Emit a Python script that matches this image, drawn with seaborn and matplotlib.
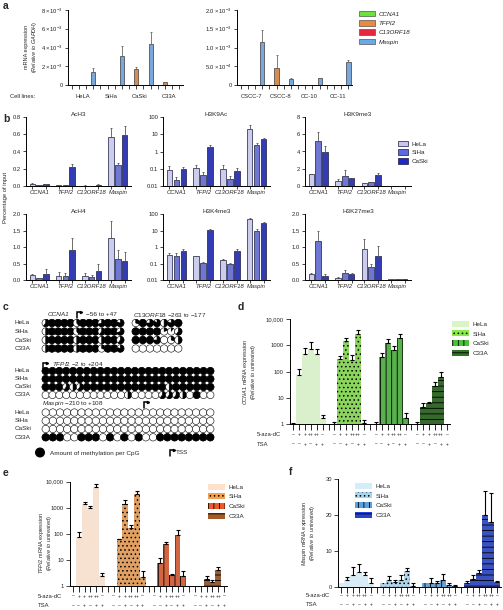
import numpy as np
import pandas as pd
import matplotlib
matplotlib.use("Agg")
import matplotlib.pyplot as plt
import matplotlib.transforms as mtransforms
from matplotlib.patches import Circle, Wedge, Patch
from matplotlib.ticker import NullLocator
import seaborn as sns

sns.set_style("ticks")
plt.rcParams["font.family"] = ["Liberation Sans", "DejaVu Sans"]
plt.rcParams["mathtext.fontset"] = "custom"
plt.rcParams["mathtext.rm"] = "Liberation Sans"
plt.rcParams["mathtext.it"] = "Liberation Sans:italic"
plt.rcParams["hatch.linewidth"] = 0.6
plt.rcParams["axes.linewidth"] = 0.7
plt.rcParams["axes.edgecolor"] = "black"
plt.rcParams["xtick.major.width"] = 0.6
plt.rcParams["ytick.major.width"] = 0.6
plt.rcParams["xtick.major.size"] = 2
plt.rcParams["ytick.major.size"] = 2
plt.rcParams["xtick.major.pad"] = 1.5
plt.rcParams["ytick.major.pad"] = 1.5

FS = 4.2

# ---------------- data ----------------
genes = ["CCNA1", "TFPI2", "C13ORF18", "Maspin"]
gene_colors = ["#6be33a", "#ec8a3c", "#e5283f", "#6aa8ea"]

# panel a (rows follow genes, columns follow samples)
a_cell_lines = ["HeLA", "SiHa", "CaSki", "C33A"]
a_cell_expr = [[0, 0, 0, 0], [0, 0, 1.7e-3, 0.3e-3], [0, 0, 0, 0], [1.4e-3, 3.1e-3, 4.4e-3, 0]]
a_cell_err = [[0, 0, 0, 0], [0, 0, 1.9e-3, 0.3e-3], [0, 0, 0, 0], [1.8e-3, 4.2e-3, 5.7e-3, 0]]
a_tumors = ["CSCC-7", "CSCC-8", "CC-10", "CC-11"]
a_tumor_expr = [[0, 0, 0, 0], [0, 0.45e-3, 0, 0], [0, 0, 0, 0], [1.15e-3, 0.15e-3, 0.18e-3, 0.62e-3]]
a_tumor_err = [[0, 0, 0, 0], [0, 0.8e-3, 0, 0], [0, 0, 0, 0], [1.47e-3, 0.2e-3, 0.2e-3, 0.68e-3]]

# panel b (rows follow cell lines, columns follow genes)
b_lines = ["HeLa", "SiHa", "CaSki"]
b_colors = ["#c6c6f2", "#5d69e2", "#1d29c9"]
ach3 = [[0.025, 0.01, 0.005, 0.57], [0.01, 0.01, 0.003, 0.24], [0.02, 0.22, 0.015, 0.59]]
ach3_err = [[0.03, 0.015, 0.008, 0.67], [0.012, 0.012, 0.005, 0.27], [0.025, 0.26, 0.02, 0.69]]
h3k9ac = [[0.09, 0.11, 0.1, 19], [0.022, 0.045, 0.027, 2.5], [0.1, 1.9, 0.07, 5.3]]
h3k9ac_err = [[0.15, 0.17, 0.16, 36], [0.035, 0.065, 0.037, 3.0], [0.13, 2.4, 0.11, 6.2]]
h3k9me3 = [[1.35, 0.62, 0.38, 0.03], [5.2, 1.2, 0.42, 0.03], [3.95, 0.89, 1.27, 0.03]]
h3k9me3_err = [[1.4, 0.77, 0.4, 0.03], [6.3, 1.85, 0.45, 0.03], [4.6, 0.95, 1.46, 0.03]]
ach4 = [[0.14, 0.13, 0.13, 1.26], [0.05, 0.13, 0.08, 0.65], [0.19, 0.9, 0.27, 0.59]]
ach4_err = [[0.18, 0.24, 0.2, 1.8], [0.06, 0.2, 0.15, 0.9], [0.33, 1.28, 0.5, 0.84]]
h3k4me3 = [[0.34, 0.27, 0.16, 48], [0.3, 0.11, 0.1, 10], [0.55, 10.5, 0.58, 30]]
h3k4me3_err = [[0.42, 0.3, 0.18, 60], [0.42, 0.12, 0.11, 12], [0.72, 11.5, 0.8, 33]]
h3k27me3 = [[0.18, 0.07, 0.95, 0.02], [1.19, 0.22, 0.38, 0.03], [0.13, 0.17, 0.73, 0.03]]
h3k27me3_err = [[0.21, 0.08, 1.24, 0.02], [1.47, 0.29, 0.5, 0.03], [0.17, 0.22, 1.02, 0.03]]

# panel c: methylation fraction per CpG (rows HeLa, SiHa, CaSki, C33A)
c_lines = ["HeLa", "SiHa", "CaSki", "C33A"]
ccna1_meth = [[0.6, 1, 1, 1, 1, 0.4, 1, 1, 1, 0.7, 1, 1, 0.8],
              [0.5, 1, 1, 1, 1, 0.4, 1, 1, 1, 0.6, 1, 1, 0.7],
              [0.5, 1, 1, 1, 1, 0.5, 1, 1, 1, 0.5, 1, 1, 0.6],
              [0.5, 1, 1, 1, 1, 0.5, 1, 1, 1, 0.3, 1, 1, 0.8]]
c13orf18_meth = [[0.3, 1, 0.75, 0.85, 0.5, 0.8, 1],
                 [1, 1, 1, 1, 0.2, 0.1, 0.6],
                 [1, 1, 1, 0.75, 0, 0.3, 0.5],
                 [0, 0, 0, 0, 0, 0, 0]]
tfpi2_meth = [[1] * 25,
              [1] * 25,
              [1, 1, 1, 0.6, 0.5, 0.6, 1, 1, 1, 1, 1, 1, 1, 1, 1, 1, 1, 1, 0.5, 1, 1, 1, 1, 1, 1],
              [0, 0, 0, 0, 0, 0, 0, 0, 0, 0, 0, 0, 0.5, 0, 0, 0, 0, 0.6, 0.6, 0.6, 0.5, 0, 1, 0, 0]]
maspin_meth = [[0] * 24,
               [0] * 24,
               [0] * 24,
               [1, 1, 1, 0, 0, 1, 1, 1, 0, 1, 0, 1, 0, 1, 0, 0, 1, 1, 1, 1, 1, 1, 1, 1]]

# panels d-f: six treatments per cell line
treat_lines = ["HeLa", "SiHa", "CaSki", "C33A"]
aza_labels = ["\u2013", "+", "+", "++", "++", "\u2013"]
tsa_labels = ["\u2013", "\u2013", "+", "\u2013", "+", "+"]
ccna1_expr = [[1, 75, 470, 720, 470, 1.8], [1, 300, 1500, 275, 2600, 1.1],
              [1, 350, 1250, 660, 1850, 1.8], [1, 4.7, 6.3, 28, 65, 1]]
ccna1_err = [[1.16, 122, 770, 1380, 720, 2.3], [1.26, 390, 1850, 430, 3800, 1.5],
             [1.26, 530, 1680, 940, 2700, 2.6], [1.26, 6.3, 7, 41, 100, 1]]
tfpi2_expr = [[1, 76, 1400, 1000, 6400, 2.4], [1, 60, 1450, 170, 3300, 2.2],
              [1, 7.5, 40, 2.5, 92, 2.4], [1, 1, 1.75, 1.35, 4.0, 1]]
tfpi2_err = [[1, 115, 1600, 1200, 8300, 3.2], [1, 64, 1900, 210, 4300, 3.7],
             [1, 12, 50, 2.8, 145, 3.7], [1, 1, 2.35, 1.65, 5.4, 1]]
maspin_expr = [[1.0, 2.0, 3.4, 4.0, 3.3, 0.9], [1.0, 1.9, 1.3, 2.0, 4.4, 0.3],
               [1.0, 1.1, 1.1, 2.0, 0.5, 0.3], [1.1, 2.1, 3.7, 20.0, 18.2, 1.4]]
maspin_err = [[1.0, 2.7, 5.4, 6.3, 4.2, 2.4], [1.0, 3.0, 1.9, 3.3, 5.3, 1.1],
              [1.0, 2.3, 1.6, 3.5, 1.1, 0.55], [1.7, 3.3, 4.7, 26.8, 26.3, 1.6]]

# ---------------- figure ----------------
W, H = 503, 610
fig = plt.figure(figsize=(W / 100, H / 100), dpi=100)
over = fig.add_axes([0, 0, 1, 1])
over.set_xlim(0, W)
over.set_ylim(H, 0)
over.axis("off")
over.set_zorder(10)


def px_axes(x0, y0, x1, y1):
    return fig.add_axes([x0 / W, 1 - y1 / H, (x1 - x0) / W, (y1 - y0) / H])


def up_errors(ax, cont, vals, tops, color, cap, lw):
    for p, v, t in zip(cont.patches, vals, tops):
        if t > v:
            xc = p.get_x() + p.get_width() / 2
            ax.errorbar(xc, v, yerr=[[0], [t - v]], fmt="none", ecolor=color,
                        elinewidth=lw, capsize=cap, capthick=lw)


def finish(ax):
    sns.despine(ax=ax)
    ax.set_xlabel("")
    ax.set_ylabel("")
    ax.tick_params(labelsize=FS)


def rot_label(x, y, lines, size=4.0):
    for i, s in enumerate(lines):
        over.text(x + i * 8, y, s, rotation=90, ha="center", va="center", fontsize=size)


# ---- panel a ----
def draw_a(ax, groups, expr, err, ymax, yticks, ylabels):
    rows = [(g, genes[j], expr[j][i]) for j in range(4) for i, g in enumerate(groups)]
    df = pd.DataFrame(rows, columns=["group", "gene", "val"])
    sns.barplot(data=df, x="group", y="val", hue="gene", order=groups, hue_order=genes,
                palette=gene_colors, width=1.0, gap=0.4, edgecolor="#3a3a3a",
                linewidth=0.5, legend=False, ax=ax)
    bars = list(ax.containers)
    for j, cont in enumerate(bars):
        up_errors(ax, cont, expr[j], err[j], "#666666", 1.0, 0.6)
    ax.set_xlim(-0.5, 3.5)
    ax.set_ylim(0, ymax)
    ax.set_yticks(yticks, ylabels)
    ax.set_xticks([i - 0.5 + (j + 0.5) / 4 for i in range(4) for j in range(4)], [])
    ax.tick_params(axis="x", length=3)
    finish(ax)
    tr = mtransforms.blended_transform_factory(ax.transData, over.transData)
    for i, g in enumerate(groups):
        over.text(i, 97, g, fontsize=FS, ha="center", va="center", transform=tr)


ax_a1 = px_axes(68, 10, 183, 85)
draw_a(ax_a1, a_cell_lines, a_cell_expr, a_cell_err, 8e-3, [0, 2e-3, 4e-3, 6e-3, 8e-3],
       ["0", r"$2\times10^{-3}$", r"$4\times10^{-3}$", r"$6\times10^{-3}$", r"$8\times10^{-3}$"])
ax_a2 = px_axes(237, 10, 352, 85)
draw_a(ax_a2, a_tumors, a_tumor_expr, a_tumor_err, 2e-3, [0, 5e-4, 1e-3, 1.5e-3, 2e-3],
       ["0", r"$5.0\times10^{-4}$", r"$1.0\times10^{-3}$", r"$1.5\times10^{-3}$", r"$2.0\times10^{-3}$"])
over.text(10, 97, "Cell lines:", fontsize=FS, va="center")
rot_label(27, 47, ["mRNA expression", r"($\it{Relative\ to\ GAPDH}$)"])
fig.legend([Patch(facecolor=c, edgecolor="#555555", lw=0.5) for c in gene_colors], genes,
           loc="upper left", bbox_to_anchor=(353 / W, 1 - 5 / H), frameon=False,
           prop={"size": 4.5, "style": "italic"}, handlelength=2.6, handleheight=1.0,
           labelspacing=0.55, handletextpad=0.6)

# ---- panel b ----
def draw_b(ax, vals, errs, title, log, ymax, yticks, ylabels):
    rows = [(genes[j], b_lines[i], vals[i][j]) for i in range(3) for j in range(4)]
    df = pd.DataFrame(rows, columns=["gene", "line", "val"])
    sns.barplot(data=df, x="gene", y="val", hue="line", order=genes, hue_order=b_lines,
                palette=b_colors, width=0.78, gap=0.2, edgecolor="#1a1a40",
                linewidth=0.5, legend=False, ax=ax)
    pos = []
    bars = list(ax.containers)
    for i, cont in enumerate(bars):
        up_errors(ax, cont, vals[i], errs[i], "#555555", 1.0, 0.6)
        pos += [p.get_x() + p.get_width() / 2 for p in cont.patches]
    if log:
        ax.set_yscale("log")
        ax.set_ylim(0.01, ymax)
    else:
        ax.set_ylim(0, ymax)
    ax.set_yticks(yticks, ylabels)
    ax.yaxis.set_minor_locator(NullLocator())
    ax.set_xlim(-0.5, 3.5)
    ax.set_xticks(range(4), genes, fontstyle="italic")
    ax.set_xticks(sorted(pos), minor=True)
    ax.tick_params(axis="x", which="major", length=0, pad=3)
    ax.tick_params(axis="x", which="minor", length=2, width=0.6)
    finish(ax)
    ax.text(0.5, 1.0, title, transform=ax.transAxes, ha="center", va="bottom", fontsize=4.6)


lin08 = ([0, 0.2, 0.4, 0.6, 0.8], ["0.0", "0.2", "0.4", "0.6", "0.8"])
logt = ([0.01, 0.1, 1, 10, 100], ["0.01", "0.1", "1", "10", "100"])
lin20 = ([0, 0.5, 1, 1.5, 2], ["0.0", "0.5", "1.0", "1.5", "2.0"])
draw_b(px_axes(26, 117, 131, 186), ach3, ach3_err, "AcH3", False, 0.8, *lin08)
draw_b(px_axes(163, 117, 270, 186), h3k9ac, h3k9ac_err, "H3K9Ac", True, 100, *logt)
draw_b(px_axes(305, 117, 411, 186), h3k9me3, h3k9me3_err, "H3K9me3", False, 8,
       [0, 2, 4, 6, 8], ["0", "2", "4", "6", "8"])
draw_b(px_axes(26, 214, 131, 280), ach4, ach4_err, "AcH4", False, 2, *lin20)
draw_b(px_axes(163, 214, 270, 280), h3k4me3, h3k4me3_err, "H3K4me3", True, 100, *logt)
draw_b(px_axes(305, 214, 411, 280), h3k27me3, h3k27me3_err, "H3K27me3", False, 2, *lin20)
over.text(6, 197, "Percentage of input", rotation=90, ha="center", va="center", fontsize=FS)
fig.legend([Patch(facecolor=c, edgecolor="#1a1a40", lw=0.5) for c in b_colors], b_lines,
           loc="upper left", bbox_to_anchor=(392 / W, 1 - 135 / H), frameon=False,
           prop={"size": 4.5}, handlelength=1.6, handleheight=1.0, labelspacing=0.45,
           handletextpad=0.6)

# ---- panel c ----
def meth_row(xs, y, r, fracs):
    for x, f in zip(xs, fracs):
        over.add_patch(Circle((x, y), r, facecolor="white", edgecolor="black", lw=0.4))
        if f >= 0.999:
            over.add_patch(Circle((x, y), r, facecolor="black", edgecolor="black", lw=0.4))
        elif f > 0:
            over.add_patch(Wedge((x, y), r, -90, -90 + 360 * f, facecolor="black",
                                 edgecolor="black", lw=0.4))


def tss(x, y):
    over.plot([x, x, x + 3.5], [y + 6, y, y], color="black", lw=1.1, solid_joinstyle="miter")
    over.plot([x + 3.8], [y], marker=">", color="black", markersize=1.6)


def meth_block(meth, x0, x1, rows_y, r):
    n = len(meth[0])
    xs = np.linspace(x0 + r, x1 - r, n)
    for row, y in zip(meth, rows_y):
        meth_row(xs, y, r, row)


rows1 = [323, 331.5, 340, 348.5]
for name, y in zip(c_lines, rows1):
    over.text(15, y, name, fontsize=4.6, va="center")
meth_block(ccna1_meth, 42, 124, rows1, 3.7)
meth_block(c13orf18_meth, 132, 182, rows1, 3.7)
over.text(58, 315, "CCNA1", fontsize=4.6, style="italic", ha="center", va="center")
tss(77, 312)
over.text(86, 315, "\u221256 to +47", fontsize=4.6, va="center")
over.text(133, 315, "$\\it{C13ORF18}$ \u2212263 to \u2212177", fontsize=4.6, va="center")

rows2 = [371, 379, 387, 395]
for name, y in zip(c_lines, rows2):
    over.text(15, y, name, fontsize=4.6, va="center")
meth_block(tfpi2_meth, 42, 214, rows2, 3.6)
tss(43, 363)
over.text(52, 364, "$\\it{TFPI2}$ \u22122 to +204", fontsize=4.6, va="center")

rows3 = [412.5, 420.8, 429, 437.3]
for name, y in zip(c_lines, rows3):
    over.text(15, y, name, fontsize=4.6, va="center")
meth_block(maspin_meth, 42, 214, rows3, 3.7)
tss(144, 402)
over.text(42, 404, "$\\it{Maspin}$ \u2212210 to +108", fontsize=4.6, va="center")

over.add_patch(Circle((40, 452.5), 4.3, facecolor="black", edgecolor="black"))
over.text(50, 453, "Amount of methylation per CpG", fontsize=4.6, va="center")
tss(170, 450)
over.text(176, 453, "TSS", fontsize=4.6, va="center")

# ---- panels d-f ----
def draw_treat(ax, expr, err, colors, hatches, log, ymax, yticks, ylabels, aza_y, tsa_y, lab_x):
    rows = [(str(g * 7 + k), line, expr[g][k]) for g, line in enumerate(treat_lines) for k in range(6)]
    df = pd.DataFrame(rows, columns=["slot", "line", "val"])
    order = [str(i) for i in range(27)]
    sns.barplot(data=df, x="slot", y="val", hue="line", order=order, hue_order=treat_lines,
                palette=colors, dodge=False, width=1.0, linewidth=0, edgecolor="black",
                legend=False, ax=ax)
    bars = list(ax.containers)
    for g, cont in enumerate(bars):
        for p in cont.patches:
            p.set_hatch(hatches[g])
            p.set_edgecolor("black")
            p.set_linewidth(0)
        up_errors(ax, cont, expr[g], err[g], "black", 1.4, 0.8)
    if log:
        ax.set_yscale("log")
        ax.set_ylim(1, ymax)
    else:
        ax.set_ylim(0, ymax)
    ax.set_yticks(yticks, ylabels)
    ax.yaxis.set_minor_locator(NullLocator())
    ax.set_xlim(-0.5, 26.5)
    ax.set_xticks(range(27), [])
    ax.tick_params(axis="x", length=4, width=0.7)
    ax.tick_params(axis="y", length=3)
    finish(ax)
    tr = mtransforms.blended_transform_factory(ax.transData, over.transData)
    for g in range(4):
        for k in range(6):
            over.text(g * 7 + k, aza_y, aza_labels[k], transform=tr, ha="center", va="center", fontsize=3.6)
            over.text(g * 7 + k, tsa_y, tsa_labels[k], transform=tr, ha="center", va="center", fontsize=3.6)
    over.text(lab_x, aza_y, "5-aza-dC", fontsize=FS, va="center")
    over.text(lab_x, tsa_y, "TSA", fontsize=FS, va="center")


def treat_legend(colors, hatches, x, y):
    hs = [Patch(facecolor=c, hatch=h, edgecolor="black", lw=0) for c, h in zip(colors, hatches)]
    fig.legend(hs, treat_lines, loc="upper left", bbox_to_anchor=(x / W, 1 - y / H), frameon=False,
               prop={"size": 4.5}, handlelength=2.8, handleheight=1.15, labelspacing=0.55,
               handletextpad=0.5)


hatches = [None, "....", "|||", "---"]
d_colors = ["#d9f5c6", "#86e84a", "#4cc23c", "#2f7322"]
e_colors = ["#fde1cb", "#f5a04e", "#ea5a2a", "#a65a28"]
f_colors = ["#d3eefa", "#a6d5f2", "#5aa2e2", "#2444d6"]
logd = ([1, 10, 100, 1000, 10000], ["1", "10", "100", "1000", "10,000"])

ax_d = px_axes(290, 319, 450, 424.3)
draw_treat(ax_d, ccna1_expr, ccna1_err, d_colors, hatches, True, 10000, *logd, 435, 444, 257)
treat_legend(d_colors, hatches, 446, 315)
rot_label(246, 372, [r"$\it{CCNA1}$ mRNA expression", r"($\it{Relative\ to\ untreated}$)"])

ax_e = px_axes(70, 481.7, 227, 585.7)
draw_treat(ax_e, tfpi2_expr, tfpi2_err, e_colors, hatches, True, 10000, *logd, 596, 605.5, 38)
treat_legend(e_colors, hatches, 202, 478)
rot_label(42, 543, [r"$\it{TFPI2}$ mRNA expression", r"($\it{Relative\ to\ untreated}$)"])

ax_f = px_axes(338, 479.3, 500.5, 586.7)
draw_treat(ax_f, maspin_expr, maspin_err, f_colors, hatches, False, 30,
           [0, 10, 20, 30], ["0", "10", "20", "30"], 595.5, 604.5, 306)
treat_legend(f_colors, hatches, 349, 477)
rot_label(305, 533, [r"$\it{Maspin}$ mRNA expression", r"($\it{Relative\ to\ untreated}$)"])

# panel letters
for letter, x, y in [("a", 3, 6), ("b", 3, 119), ("c", 3, 307), ("d", 238, 307), ("e", 3, 473), ("f", 289, 472)]:
    over.text(x, y, letter, fontsize=7.5, fontweight="bold", va="center")

fig.savefig("out.png", dpi=100)
